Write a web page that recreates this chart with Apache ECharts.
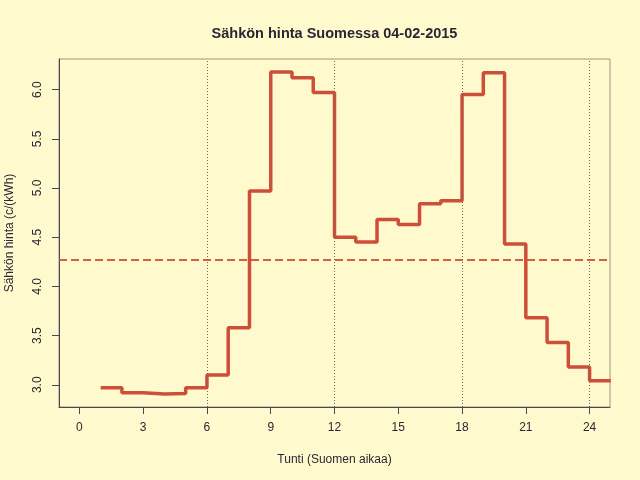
<!DOCTYPE html>
<html>
<head>
<meta charset="utf-8">
<title>Sähkön hinta</title>
<script src="https://cdn.jsdelivr.net/npm/echarts@6/dist/echarts.min.js"></script>
<style>
  html, body { margin: 0; padding: 0; background: #FFFACD; }
  #chart { width: 640px; height: 480px; }
</style>
</head>
<body>
<div id="chart"></div>
<script>
// tuntihinnat (c/kWh), luettu kuvasta
var hours = [1, 2, 3, 4, 5, 6, 7, 8, 9, 10, 11, 12, 13, 14, 15, 16, 17, 18, 19, 20, 21, 22, 23, 24];
var prices = [2.97, 2.92, 2.905, 2.91, 2.97, 3.10, 3.58, 4.97, 6.18, 6.12, 5.97, 4.50,
              4.45, 4.68, 4.63, 4.84, 4.87, 5.95, 6.17, 4.43, 3.68, 3.43, 3.18, 3.04];
var meanPrice = 4.27;
var xTicks = [0, 3, 6, 9, 12, 15, 18, 21, 24];
var yTicks = [3.0, 3.5, 4.0, 4.5, 5.0, 5.5, 6.0];
var guideHours = [6, 12, 18, 24];

var red = '#CD4F39';
var textColor = '#2b2633';

// porrasviiva: viimeinen tunti jatkuu seuraavan tunnin alkuun
var steps = [];
for (var i = 0; i < hours.length; i++) {
  steps.push([hours[i], prices[i]]);
}
steps.push([hours[hours.length - 1] + 1, prices[prices.length - 1]]);

var guides = [];
for (var j = 0; j < guideHours.length; j++) {
  guides.push({ xAxis: guideHours[j] });
}

var myChart = echarts.init(document.getElementById('chart'));
var option = {
  backgroundColor: '#FFFACD',
  animation: false,
  textStyle: { fontFamily: 'Liberation Sans, Arial, sans-serif' },
  title: {
    text: 'Sähkön hinta Suomessa 04-02-2015',
    left: 329.5,
    textAlign: 'center',
    top: 21,
    textStyle: { fontSize: 14.5, fontWeight: 'bold', color: textColor, fontFamily: 'Liberation Sans, Arial, sans-serif' }
  },
  grid: {
    left: 59, right: 30, top: 59, bottom: 73,
    outerBoundsMode: 'none',
    containLabel: false,
    show: true,
    borderColor: '#9c9782',
    borderWidth: 1,
    backgroundColor: 'transparent'
  },
  xAxis: {
    type: 'value',
    min: -0.96,
    max: 24.96,
    name: 'Tunti (Suomen aikaa)',
    nameLocation: 'middle',
    nameGap: 47,
    nameTextStyle: { fontSize: 12, color: textColor },
    axisLine: { show: true, onZero: false, lineStyle: { color: '#4a4652', width: 1 } },
    axisTick: { show: true, length: 7, customValues: xTicks, lineStyle: { color: '#4a4652' } },
    axisLabel: { customValues: xTicks, margin: 15, fontSize: 12, color: textColor },
    splitLine: { show: false }
  },
  yAxis: {
    type: 'value',
    min: 2.774,
    max: 6.311,
    name: 'Sähkön hinta (c/(kWh)',
    nameLocation: 'middle',
    nameGap: 43,
    nameTextStyle: { fontSize: 12, color: textColor },
    axisLine: { show: true, onZero: false, lineStyle: { color: '#4a4652', width: 1 } },
    axisTick: { show: true, length: 7, customValues: yTicks, lineStyle: { color: '#4a4652' } },
    axisLabel: {
      customValues: yTicks,
      rotate: 90,
      margin: 15,
      fontSize: 12,
      color: textColor,
      formatter: function (v) { return v.toFixed(1); }
    },
    splitLine: { show: false }
  },
  series: [
    {
      name: 'apuviivat',
      type: 'line',
      data: [],
      silent: true,
      z: 1,
      markLine: {
        silent: true,
        symbol: ['none', 'none'],
        label: { show: false },
        lineStyle: { color: '#6b675c', type: [1, 2], width: 1 },
        data: guides
      }
    },
    {
      name: 'keskiarvo',
      type: 'line',
      data: [],
      silent: true,
      z: 2,
      markLine: {
        silent: true,
        symbol: ['none', 'none'],
        label: { show: false },
        lineStyle: { color: red, type: [8, 4], width: 2, opacity: 0.9 },
        data: [{ yAxis: meanPrice }]
      }
    },
    {
      name: 'hinta',
      type: 'line',
      step: 'end',
      data: steps,
      showSymbol: false,
      clip: true,
      z: 3,
      lineStyle: { color: red, width: 3.5 }
    }
  ]
};
myChart.setOption(option);
</script>
</body>
</html>
